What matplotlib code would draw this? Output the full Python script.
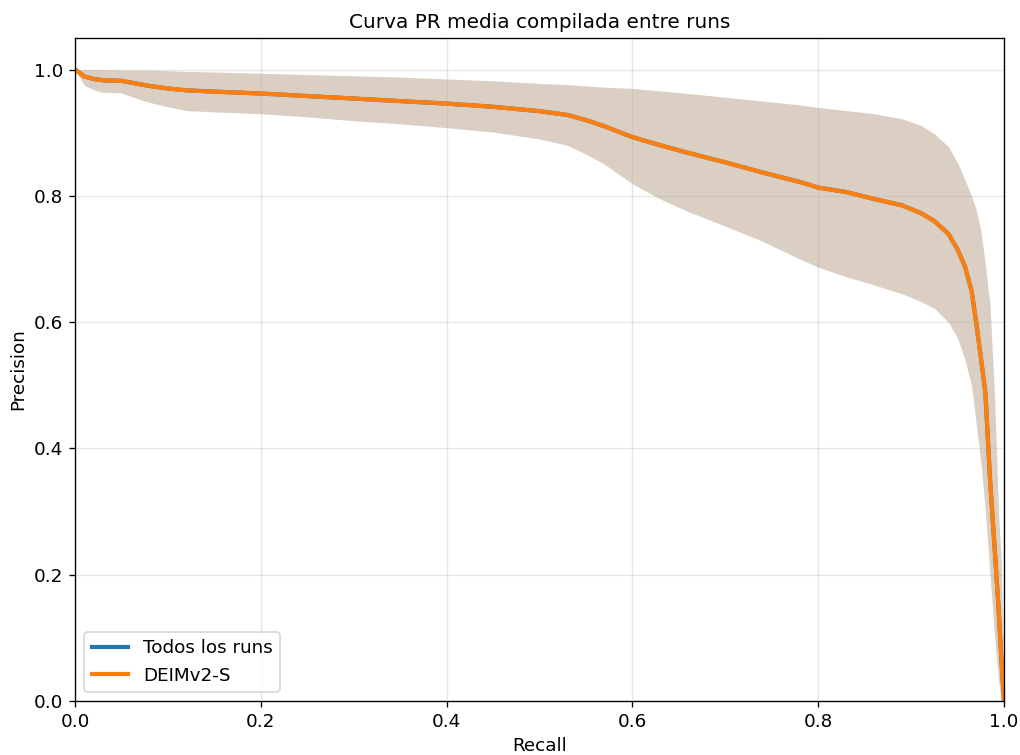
import numpy as np
import matplotlib
matplotlib.use("Agg")
import matplotlib.pyplot as plt

recall = [0.0, 0.01, 0.02, 0.03, 0.05, 0.065, 0.08, 0.1, 0.12, 0.15,
          0.2, 0.25, 0.3, 0.35, 0.4, 0.45, 0.5, 0.53, 0.55, 0.57,
          0.6, 0.63, 0.66, 0.7, 0.74, 0.78, 0.8, 0.83, 0.86, 0.89,
          0.91, 0.925, 0.94, 0.95, 0.958, 0.965, 0.97, 0.975, 0.98, 0.985,
          0.99, 0.994, 0.997, 1.0]

prec_mean = [1.0, 0.989, 0.985, 0.983, 0.982, 0.978, 0.974, 0.970, 0.967, 0.965,
             0.962, 0.958, 0.954, 0.950, 0.946, 0.941, 0.934, 0.928, 0.920, 0.910,
             0.893, 0.880, 0.868, 0.853, 0.837, 0.822, 0.813, 0.806, 0.795, 0.785,
             0.773, 0.760, 0.740, 0.715, 0.688, 0.650, 0.600, 0.545, 0.487, 0.350,
             0.240, 0.150, 0.070, 0.0]

prec_upper = [1.0, 1.0, 1.0, 1.0, 0.999, 0.999, 0.999, 0.998, 0.997, 0.996,
              0.994, 0.992, 0.990, 0.988, 0.985, 0.982, 0.978, 0.976, 0.974, 0.972,
              0.970, 0.966, 0.962, 0.956, 0.950, 0.944, 0.940, 0.935, 0.930, 0.922,
              0.912, 0.898, 0.878, 0.852, 0.825, 0.800, 0.778, 0.745, 0.690, 0.625,
              0.476, 0.300, 0.220, 0.0]

prec_lower = [1.0, 0.975, 0.968, 0.964, 0.963, 0.955, 0.948, 0.941, 0.935, 0.933,
              0.930, 0.925, 0.919, 0.914, 0.908, 0.901, 0.890, 0.880, 0.866, 0.850,
              0.819, 0.795, 0.775, 0.752, 0.728, 0.700, 0.687, 0.672, 0.659, 0.645,
              0.633, 0.622, 0.600, 0.575, 0.540, 0.500, 0.440, 0.380, 0.300, 0.200,
              0.100, 0.035, 0.0, 0.0]

fig, ax = plt.subplots(figsize=(8.508, 6.292), dpi=120)
fig.subplots_adjust(left=0.0735, right=0.9834, top=0.9497, bottom=0.0715)

# todos los runs (queda debajo de la curva del modelo)
ax.plot(recall, prec_mean, color="C0", lw=2.5, label="Todos los runs")
ax.fill_between(recall, prec_lower, prec_upper, color="C0", alpha=0.2, lw=0)

ax.plot(recall, prec_mean, color="C1", lw=2.5, label="DEIMv2-S")
ax.fill_between(recall, prec_lower, prec_upper, color="C1", alpha=0.2, lw=0)

ax.set_xlim(0, 1)
ax.set_ylim(0, 1.05)
ax.set_xlabel("Recall", fontsize=11)
ax.set_ylabel("Precision", fontsize=11)
ax.set_title("Curva PR media compilada entre runs", fontsize=12)
ax.tick_params(labelsize=11)
ax.grid(True, alpha=0.3)
ax.legend(loc="lower left", fontsize=11)

fig.savefig("out.png", dpi=120)
